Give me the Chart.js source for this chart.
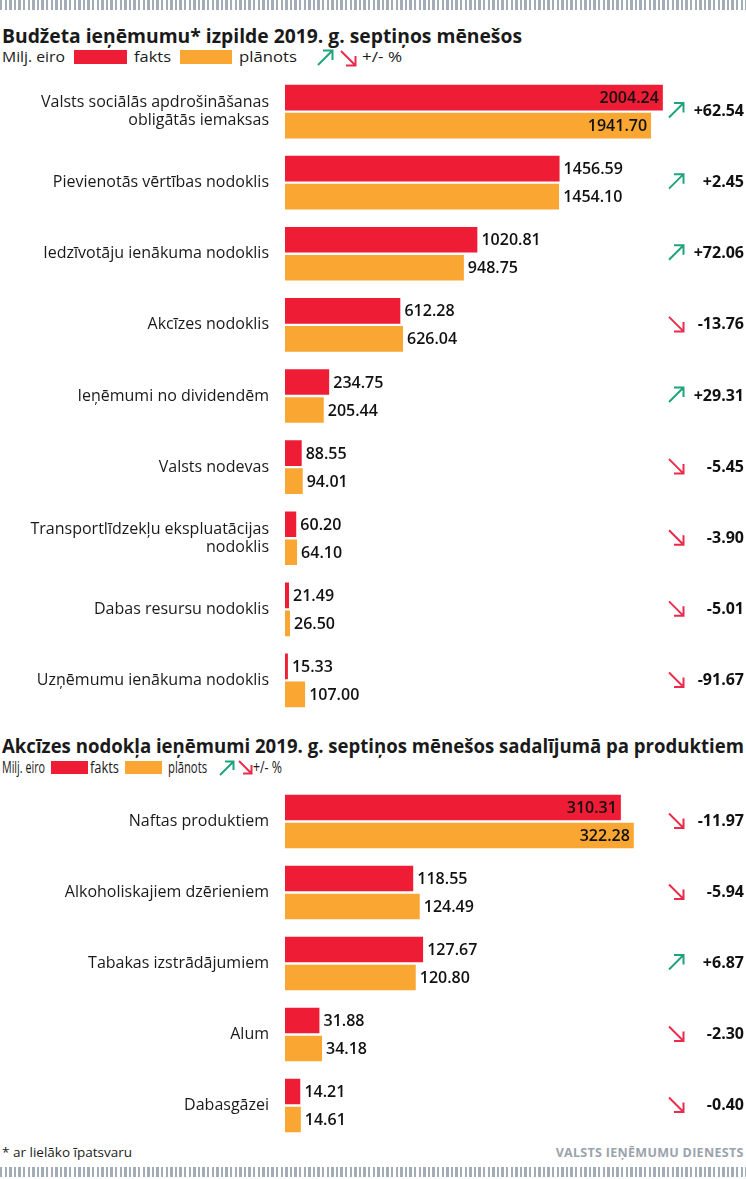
<!DOCTYPE html>
<html><head><meta charset="utf-8">
<script src="https://cdn.jsdelivr.net/npm/chart.js@4.4.1/dist/chart.umd.min.js"></script>
<style>
html,body{margin:0;padding:0;background:#fff}
body{width:746px;height:1179px;position:relative;overflow:hidden;font-family:'Open Sans',sans-serif;color:#1a1a1a}
.ticks{position:absolute;left:0;width:746px;background:repeating-linear-gradient(90deg,#a3adb8 0 2.4px,transparent 2.4px 4.6px)}
.t{position:absolute;white-space:nowrap;transform-origin:0 50%;line-height:1}
.box{position:absolute}
canvas{position:absolute;left:0}
</style></head>
<body>
<div class="ticks" style="top:0;height:10px"></div>
<div class="ticks" style="top:1167px;height:10px"></div>

<div class="t" id="title1" style="left:2px;top:26px;font-size:20px;font-weight:700">Budžeta ieņēmumu* izpilde 2019. g. septiņos mēnešos</div>
<div class="t" id="l1a" style="left:2px;top:49px;font-size:15px">Milj. eiro</div>
<div class="box" style="left:74px;top:50px;width:53px;height:14px;background:#ee1c34"></div>
<div class="t" id="l1b" style="left:134px;top:49px;font-size:15px">fakts</div>
<div class="box" style="left:180px;top:50px;width:52px;height:14px;background:#f9a633"></div>
<div class="t" id="l1c" style="left:239px;top:49px;font-size:15px">plānots</div>
<svg class="box" style="left:316px;top:48px" width="44" height="19"><path d="M2 17 L16 3 M7 2.5 H16.5 V12" fill="none" stroke="#1fa37d" stroke-width="2"/><path d="M25 3 L39 17 M39.5 8 V17.5 H30" fill="none" stroke="#ec2b4c" stroke-width="2"/></svg>
<div class="t" id="l1d" style="left:362px;top:49px;font-size:15px">+/- %</div>

<div class="t" id="title2" style="left:2px;top:736px;font-size:20px;font-weight:700">Akcīzes nodokļa ieņēmumi 2019. g. septiņos mēnešos sadalījumā pa produktiem</div>
<div class="t" id="l2a" style="left:2px;top:759px;font-size:16px">Milj. eiro</div>
<div class="box" style="left:51px;top:761px;width:37px;height:13px;background:#ee1c34"></div>
<div class="t" id="l2b" style="left:90px;top:759px;font-size:16px">fakts</div>
<div class="box" style="left:125px;top:761px;width:37px;height:13px;background:#f9a633"></div>
<div class="t" id="l2c" style="left:168px;top:759px;font-size:16px">plānots</div>
<svg class="box" style="left:218px;top:758px" width="36" height="19"><path d="M2 17 L15 4 M7 3.5 H15.5 V12" fill="none" stroke="#1fa37d" stroke-width="2"/><path d="M21 3 L33 15 M33.5 7 V15.5 H25" fill="none" stroke="#ec2b4c" stroke-width="2"/></svg>
<div class="t" id="l2d" style="left:253px;top:759px;font-size:16px">+/- %</div>

<canvas id="c1" width="746" height="640" style="top:76px"></canvas>
<canvas id="c2" width="746" height="355" style="top:786px"></canvas>

<div class="t" id="foot1" style="left:2px;top:1147px;font-size:12px">* ar lielāko īpatsvaru</div>
<div class="t" id="foot2" style="left:556px;top:1147px;font-size:12px;font-weight:700;color:#9aa3ab;letter-spacing:0.3px">VALSTS IEŅĒMUMU DIENESTS</div>

<script>
// ---- data ----
const categories1 = [["Valsts sociālās apdrošināšanas","obligātās iemaksas"],"Pievienotās vērtības nodoklis","Iedzīvotāju ienākuma nodoklis","Akcīzes nodoklis","Ieņēmumi no dividendēm","Valsts nodevas",["Transportlīdzekļu ekspluatācijas","nodoklis"],"Dabas resursu nodoklis","Uzņēmumu ienākuma nodoklis"];
const fakts1 = [2004.24,1456.59,1020.81,612.28,234.75,88.55,60.20,21.49,15.33];
const planots1 = [1941.70,1454.10,948.75,626.04,205.44,94.01,64.10,26.50,107.00];
const change1 = [62.54,2.45,72.06,-13.76,29.31,-5.45,-3.90,-5.01,-91.67];

const categories2 = ["Naftas produktiem","Alkoholiskajiem dzērieniem","Tabakas izstrādājumiem","Alum","Dabasgāzei"];
const fakts2 = [310.31,118.55,127.67,31.88,14.21];
const planots2 = [322.28,124.49,120.80,34.18,14.61];
const change2 = [-11.97,-5.94,6.87,-2.30,-0.40];

// ---- fit header texts to target widths ----
function fit(id, w){const el=document.getElementById(id);const r=el.getBoundingClientRect().width;el.style.transform='scaleX('+(w/r)+')';}
function fitRight(id, right, w){const el=document.getElementById(id);const r=el.getBoundingClientRect().width;el.style.transformOrigin='100% 50%';el.style.left=(right-r)+'px';el.style.transform='scaleX('+(w/r)+')';}
fit('title1',520); fit('title2',742);
fit('l1a',63); fit('l1b',37); fit('l1c',58); fit('l1d',40);
fit('l2a',43); fit('l2b',29); fit('l2c',39); fit('l2d',29);
fit('foot1',130); fitRight('foot2',744,188);

const RED='#ee1c34', ORANGE='#f9a633', GREEN='#1fa37d', ARED='#ec2b4c';
const FONT="'Open Sans', sans-serif";

const annotate = {
  id:'annotate',
  afterDatasetsDraw(chart, args, opts){
    const ctx=chart.ctx;
    ctx.save();
    ctx.font='600 16px '+FONT;
    ctx.fillStyle='#111';
    ctx.textBaseline='middle';
    chart.data.datasets.forEach((ds,di)=>{
      const meta=chart.getDatasetMeta(di);
      meta.data.forEach((bar,i)=>{
        const txt=ds.data[i].toFixed(2);
        const w=ctx.measureText(txt).width;
        if(bar.x+5+w>660){ctx.textAlign='right';ctx.fillText(txt,bar.x-4,bar.y+1);}
        else{ctx.textAlign='left';ctx.fillText(txt,bar.x+4,bar.y+1);}
      });
    });
    const ys=chart.scales.y;
    opts.changes.forEach((v,i)=>{
      const yc=ys.getPixelForValue(i);
      ctx.lineWidth=2;
      ctx.beginPath();
      if(v>=0){
        ctx.strokeStyle=GREEN;
        ctx.moveTo(669,yc+6);ctx.lineTo(683,yc-8);
        ctx.moveTo(674,yc-8.5);ctx.lineTo(683.5,yc-8.5);ctx.lineTo(683.5,yc+1);
      }else{
        ctx.strokeStyle=ARED;
        ctx.moveTo(669,yc-8);ctx.lineTo(683,yc+6);
        ctx.moveTo(683.5,yc-3);ctx.lineTo(683.5,yc+6.5);ctx.lineTo(674,yc+6.5);
      }
      ctx.stroke();
      ctx.textAlign='right';
      ctx.fillStyle='#111';
      ctx.font='700 16px '+FONT;
      ctx.fillText((v>0?'+':'')+v.toFixed(2),744,yc);
    });
    ctx.restore();
  }
};

function makeChart(id, cats, fakts, planots, changes, max){
  const bw={top:1.5,bottom:1.5,left:0,right:0};
  new Chart(document.getElementById(id),{
    type:'bar',
    data:{labels:cats,datasets:[
      {label:'fakts',data:fakts,backgroundColor:RED,borderColor:'#fff',borderWidth:bw,borderSkipped:false,barThickness:28},
      {label:'plānots',data:planots,backgroundColor:ORANGE,borderColor:'#fff',borderWidth:bw,borderSkipped:false,barThickness:28}
    ]},
    options:{
      indexAxis:'y',responsive:false,animation:false,
      layout:{padding:{left:0,right:1,top:0,bottom:0}},
      plugins:{legend:{display:false},tooltip:{enabled:false},annotate:{changes}},
      scales:{
        x:{display:false,min:0,max:max},
        y:{grid:{display:false},border:{display:false},
           ticks:{color:'#1a1a1a',font:{family:FONT,size:16,lineHeight:1.15},padding:8},
           afterFit(s){s.width=285;s.paddingTop=0;s.paddingBottom=0;}}
      }
    },
    plugins:[annotate]
  });
}
makeChart('c1',categories1,fakts1,planots1,change1,2440);
makeChart('c2',categories2,fakts2,planots2,change2,425);
</script>
</body></html>
